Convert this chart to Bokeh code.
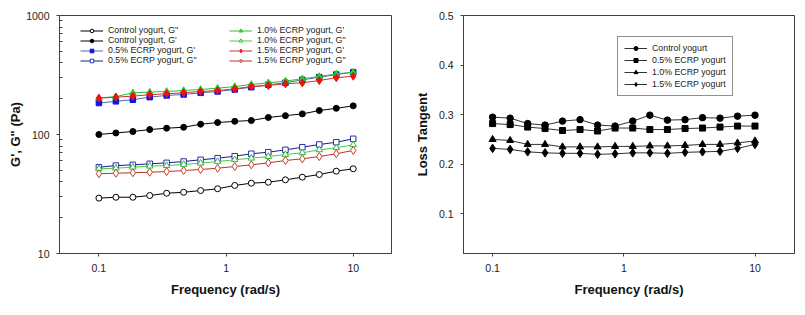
from bokeh.plotting import figure
from bokeh.layouts import row
from bokeh.models import Legend, LegendItem, FixedTicker, Range1d
from bokeh.embed import file_html
from bokeh.resources import INLINE

# ---- data ----
freq = [0.1, 0.136, 0.185, 0.251, 0.341, 0.464, 0.631, 0.858, 1.17, 1.58, 2.15, 2.93, 3.98, 5.41, 7.36, 10.0]

ctrl_Gp = [100, 103, 106, 110, 113, 115, 122, 126, 129, 131, 139, 144, 149, 159, 166, 174]
ctrl_Gpp = [29.2, 29.7, 29.7, 30.7, 32.1, 32.7, 33.8, 35.0, 37.3, 39.0, 39.7, 41.6, 43.8, 46.1, 49.2, 51.5]
e05_Gp = [184, 190, 196, 206, 213, 217, 224, 230, 239, 250, 262, 272, 288, 303, 319, 334]
e05_Gpp = [53.1, 54.8, 55.6, 56.7, 57.8, 59.3, 61.3, 63.2, 65.7, 68.9, 71.0, 74.3, 78.2, 82.4, 86.1, 92.0]
e10_Gp = [203, 208, 224, 227, 230, 234, 239, 245, 253, 263, 272, 281, 294, 307, 323, 334]
e10_Gpp = [51.5, 52.1, 53.1, 54.2, 54.8, 56.0, 57.4, 59.3, 61.3, 63.2, 65.3, 67.9, 70.2, 74.3, 77.3, 81.9]
e15_Gp = [202, 206, 210, 216, 220, 224, 230, 234, 242, 253, 258, 267, 272, 284, 300, 309]
e15_Gpp = [46.8, 47.3, 47.7, 48.2, 48.8, 49.8, 50.8, 52.1, 53.8, 55.6, 57.8, 60.5, 62.5, 65.3, 68.9, 73.5]

tan_ctrl = [0.295, 0.293, 0.282, 0.279, 0.287, 0.290, 0.279, 0.277, 0.287, 0.299, 0.289, 0.290, 0.294, 0.293, 0.297, 0.299]
tan_05 = [0.282, 0.280, 0.275, 0.272, 0.268, 0.270, 0.267, 0.273, 0.273, 0.270, 0.270, 0.272, 0.273, 0.275, 0.277, 0.277]
tan_10 = [0.250, 0.248, 0.240, 0.240, 0.235, 0.235, 0.235, 0.236, 0.236, 0.237, 0.237, 0.238, 0.240, 0.240, 0.243, 0.247]
tan_15 = [0.232, 0.230, 0.225, 0.223, 0.222, 0.222, 0.220, 0.221, 0.223, 0.223, 0.222, 0.224, 0.225, 0.226, 0.232, 0.240]

left_labels = ['Control yogurt, G"', "Control yogurt, G'", "0.5% ECRP yogurt, G'", '0.5% ECRP yogurt, G"',
               "1.0% ECRP yogurt, G'", '1.0% ECRP yogurt, G"', "1.5% ECRP yogurt, G'", '1.5% ECRP yogurt, G"']
right_labels = ["Control yogurt", "0.5% ECRP yogurt", "1.0% ECRP yogurt", "1.5% ECRP yogurt"]

FONT = "Liberation Sans"
AX = "#404040"


def style_axes(p, ylab_standoff):
    p.outline_line_color = AX
    p.outline_line_width = 1
    p.grid.grid_line_color = None
    p.background_fill_color = "white"
    p.border_fill_color = "white"
    for ax in (p.xaxis[0], p.yaxis[0]):
        ax.axis_line_color = AX
        ax.major_tick_line_color = AX
        ax.major_tick_out = 3
        ax.major_tick_in = 0
        ax.minor_tick_line_color = None
        ax.major_label_text_font = FONT
        ax.major_label_text_font_size = "10.5px"
        ax.major_label_text_color = "#222222"
        ax.major_label_standoff = 7
        ax.axis_label_text_font = FONT
        ax.axis_label_text_font_size = "13px"
        ax.axis_label_text_font_style = "bold"
        ax.axis_label_text_color = "#111111"
    p.xaxis[0].axis_label_standoff = 7
    p.yaxis[0].axis_label_standoff = ylab_standoff
    p.xaxis[0].ticker = FixedTicker(ticks=[0.1, 1, 10])
    p.xaxis[0].major_label_overrides = {0.1: "0.1", 1: "1", 10: "10"}
    p.xaxis[0].axis_label = "Frequency (rad/s)"


# ---- left figure ----
p1 = figure(width=410, height=299, x_axis_type="log", y_axis_type="log",
            x_range=Range1d(0.049, 20), y_range=Range1d(10, 1000),
            output_backend="svg", toolbar_location=None,
            min_border_left=59, min_border_right=19, min_border_top=15, min_border_bottom=46)
style_axes(p1, 0)
minors = [m * d for d in (10, 100) for m in range(2, 10)]
p1.yaxis[0].ticker = FixedTicker(ticks=[10, 100, 1000], minor_ticks=minors)
p1.yaxis[0].major_label_overrides = {10: "10", 100: "100", 1000: "1000"}
p1.yaxis[0].minor_tick_line_color = AX
p1.yaxis[0].minor_tick_in = 3
p1.yaxis[0].minor_tick_out = 0
p1.yaxis[0].axis_label = 'G\', G" (Pa)'

series = [
    (ctrl_Gpp, "circle", "black", "white", "black", 6),
    (ctrl_Gp, "circle", "black", "black", "black", 6),
    (e05_Gp, "square", "#5566aa", "#1010ee", "#1010ee", 5.5),
    (e05_Gpp, "square", "#1a1a90", "white", "#2233aa", 5.5),
    (e10_Gp, "triangle", "#33bb33", "#22dd22", "#22cc22", 6.5),
    (e10_Gpp, "triangle", "#44cc44", "white", "#33bb33", 6.5),
    (e15_Gp, "diamond", "#cc3333", "#ee1111", "#ee1111", 8),
    (e15_Gpp, "diamond", "#bb3322", "white", "#c04030", 8),
]
items = []
for (vals, mk, lc, fc, mc, sz), lab in zip(series, left_labels):
    lr = p1.line(freq, vals, line_color=lc, line_width=1)
    sr = p1.scatter(freq, vals, marker=mk, size=sz, fill_color=fc, line_color=mc, line_width=1)
    items.append(LegendItem(label=lab, renderers=[lr, sr]))

for k, loc in ((0, (21, 188)), (4, (170, 188))):
    lg = Legend(items=items[k:k + 4], location=loc, orientation="vertical",
                padding=0, margin=0, spacing=0, glyph_width=23, glyph_height=9,
                label_height=9, label_standoff=5, label_text_font=FONT,
                label_text_font_size="8.8px", label_text_color="#222222",
                background_fill_alpha=0, border_line_color=None)
    p1.add_layout(lg)

# ---- right figure ----
p2 = figure(width=387, height=299, x_axis_type="log",
            x_range=Range1d(0.06, 20), y_range=Range1d(0.02, 0.5),
            output_backend="svg", toolbar_location=None,
            min_border_left=53, min_border_right=3, min_border_top=15, min_border_bottom=46)
style_axes(p2, 6)
p2.yaxis[0].ticker = FixedTicker(ticks=[0.1, 0.2, 0.3, 0.4, 0.5])
p2.yaxis[0].major_label_overrides = {0.1: "0.1", 0.2: "0.2", 0.3: "0.3", 0.4: "0.4", 0.5: "0.5"}
p2.yaxis[0].axis_label = "Loss Tangent"

tseries = [(tan_ctrl, "circle", 6.5), (tan_05, "square", 6), (tan_10, "triangle", 7), (tan_15, "diamond", 8.5)]
titems = []
for (vals, mk, sz), lab in zip(tseries, right_labels):
    lr = p2.line(freq, vals, line_color="#333333", line_width=1)
    sr = p2.scatter(freq, vals, marker=mk, size=sz, fill_color="black", line_color="black")
    titems.append(LegendItem(label=lab, renderers=[lr, sr]))

lg2 = Legend(items=titems, location=(154, 157), orientation="vertical",
             padding=6, margin=0, spacing=2, glyph_width=23, glyph_height=10,
             label_height=10, label_standoff=5, label_text_font=FONT,
             label_text_font_size="8.8px", label_text_color="#222222",
             background_fill_color="white", border_line_color="#222222", border_line_width=1)
p2.add_layout(lg2)

p = row(p1, p2)
open("out.html", "w").write(file_html(p, INLINE))
